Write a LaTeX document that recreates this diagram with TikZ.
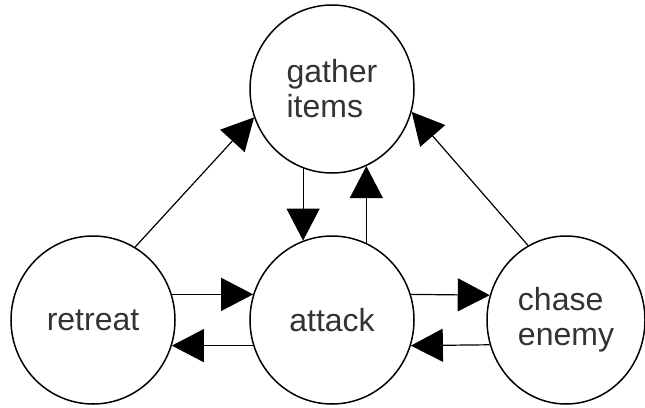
\documentclass[tikz,border=0pt]{standalone}
\usepackage{fontspec}
\setmainfont{Liberation Sans}
\usetikzlibrary{shapes.geometric,arrows.meta}

\begin{document}
\begin{tikzpicture}[x=1pt,y=-1pt,
                   state/.style={ellipse,draw,line width=1.5pt,minimum width=164pt,minimum height=168pt,inner sep=0pt,
                                 text=black!80,font=\fontsize{32}{35}\selectfont},
                   trans/.style={line width=1.2pt,-{Triangle[length=32pt,width=33pt]}}]
\useasboundingbox (0,0) rectangle (645,407);
\node[state,align=left] (gather) at (332,89) {gather\\items};
\node[state] (retreat) at (93,320) {retreat};
\node[state] (attack) at (332,320) {attack};
\node[state,minimum width=158pt,align=left] (chase) at (566,320) {chase\\enemy};
\draw[trans] (retreat.18) -- (attack.162);
\draw[trans] (attack.-162) -- (retreat.-18);
\draw[trans] (attack.18) -- (chase.162);
\draw[trans] (chase.-162) -- (attack.-18);
\draw[trans] (gather.-110) -- (attack.110);
\draw[trans] (attack.66) -- (gather.-66);
\draw[trans] (retreat.60) -- (gather.200);
\draw[trans] (chase.117) -- (gather.-16);
\end{tikzpicture}
\end{document}
